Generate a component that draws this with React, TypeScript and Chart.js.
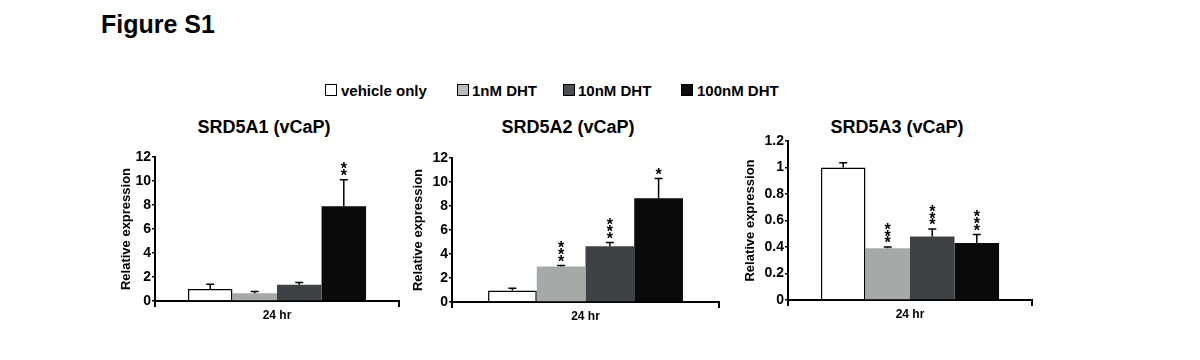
import React, { useEffect, useRef } from 'react';
import { Chart, registerables } from 'chart.js';

Chart.register(...registerables);

const FONT = '"Liberation Sans", Arial, Helvetica, sans-serif';

// ---- data ----
const figureTitle = 'Figure S1';
const seriesNames = ['vehicle only', '1nM DHT', '10nM DHT', '100nM DHT'];
const seriesColors = ['#ffffff', '#a5aaa9', '#3e4244', '#0a0a0a'];
const legendColors = ['#ffffff', '#b7bdbc', '#4a4f51', '#0c0c0c'];
const categories = ['24 hr'];
const yAxisTitle = 'Relative expression';

const panelTitles = ['SRD5A1 (vCaP)', 'SRD5A2 (vCaP)', 'SRD5A3 (vCaP)'];

const srd5a1Values = [1.0, 0.65, 1.35, 7.9];
const srd5a1ErrTop = [1.4, 0.8, 1.55, 10.1];
const srd5a1Stars = [0, 0, 0, 2];

const srd5a2Values = [0.95, 2.95, 4.65, 8.65];
const srd5a2ErrTop = [1.15, 3.05, 4.95, 10.3];
const srd5a2Stars = [0, 3, 3, 1];

const srd5a3Values = [1.0, 0.39, 0.48, 0.43];
const srd5a3ErrTop = [1.035, 0.4, 0.535, 0.495];
const srd5a3Stars = [0, 3, 3, 3];

const yMaxes = [12, 12, 1.2];
const ySteps = [2, 2, 0.2];

const panels = [
  { title: panelTitles[0], values: srd5a1Values, err: srd5a1ErrTop, stars: srd5a1Stars, max: yMaxes[0], step: ySteps[0] },
  { title: panelTitles[1], values: srd5a2Values, err: srd5a2ErrTop, stars: srd5a2Stars, max: yMaxes[1], step: ySteps[1] },
  { title: panelTitles[2], values: srd5a3Values, err: srd5a3ErrTop, stars: srd5a3Stars, max: yMaxes[2], step: ySteps[2] },
];

// ---- layout (positions only) ----
const layouts = [
  { left: 115, top: 147, width: 288, height: 184, yW: 40, titleX: 264 },
  { left: 407, top: 148, width: 316, height: 184, yW: 45, titleX: 568 },
  { left: 739, top: 131, width: 297, height: 199, yW: 49, titleX: 897 },
];
const legendItems = [
  { box: 325, text: 341 },
  { box: 457, text: 472 },
  { box: 563, text: 578 },
  { box: 681, text: 697 },
];

type PanelData = typeof panels[number];
type Layout = typeof layouts[number];

function Panel({ p, L }: { p: PanelData; L: Layout }) {
  const ref = useRef<HTMLCanvasElement | null>(null);
  useEffect(() => {
    if (!ref.current) return;
    const errPlugin = {
      id: 'errbars',
      afterDatasetsDraw(chart: any) {
        const ctx = chart.ctx;
        const ys = chart.scales.y;
        chart.data.datasets.forEach((_ds: any, i: number) => {
          const bar = chart.getDatasetMeta(i).data[0];
          if (!bar) return;
          const x = bar.x;
          const top = ys.getPixelForValue(p.err[i]);
          const by = bar.y;
          ctx.save();
          ctx.strokeStyle = '#000';
          ctx.lineWidth = 1.5;
          ctx.beginPath();
          ctx.moveTo(x, by);
          ctx.lineTo(x, top);
          ctx.moveTo(x - 4, top);
          ctx.lineTo(x + 4, top);
          ctx.stroke();
          ctx.fillStyle = '#000';
          ctx.font = `bold 16px ${FONT}`;
          ctx.textAlign = 'center';
          ctx.textBaseline = 'alphabetic';
          for (let k = 0; k < p.stars[i]; k++) {
            const cy = top - 8 - k * 6.8;
            ctx.fillText('*', x, cy + 9.3);
          }
          ctx.restore();
        });
      },
    };
    const chart = new Chart(ref.current, {
      type: 'bar',
      data: {
        labels: categories,
        datasets: seriesNames.map((n, i) => ({
          label: n,
          data: [p.values[i]],
          backgroundColor: seriesColors[i],
          borderColor: i === 0 ? '#000' : seriesColors[i],
          borderWidth: i === 0 ? 1.5 : 0,
          categoryPercentage: 0.73,
          barPercentage: 1,
        })),
      },
      options: {
        responsive: false,
        animation: false,
        devicePixelRatio: 1,
        layout: { padding: { top: 10, right: 4, left: 0, bottom: 0 } },
        plugins: { legend: { display: false }, tooltip: { enabled: false }, title: { display: false } },
        scales: {
          x: {
            grid: { display: true, drawOnChartArea: false, drawTicks: true, tickLength: 6, color: '#000', lineWidth: 2, offset: true },
            border: { display: true, color: '#000', width: 2 },
            ticks: { color: '#000', font: { family: FONT, size: 12, weight: 'bold' }, padding: 1 },
            afterFit: (s: any) => { s.height = 30; },
          },
          y: {
            min: 0,
            max: p.max,
            ticks: {
              stepSize: p.step,
              color: '#000',
              font: { family: FONT, size: 14, weight: 'bold' },
              padding: 1,
              callback: (v: any) => String(Math.round(Number(v) * 10) / 10),
            },
            grid: { display: true, drawOnChartArea: false, drawTicks: true, tickLength: 3, color: '#000', lineWidth: 1.5 },
            border: { display: true, color: '#000', width: 2 },
            title: { display: true, text: yAxisTitle, color: '#000', font: { family: FONT, size: 13, weight: 'bold' }, padding: { top: 4, bottom: 0 } },
            afterFit: (s: any) => { s.width = L.yW; },
          },
        },
      } as any,
      plugins: [errPlugin],
    });
    return () => chart.destroy();
  }, []);
  return (
    <>
      <div
        style={{
          position: 'absolute', left: L.titleX - 120, width: 240, top: 118, textAlign: 'center',
          fontFamily: FONT, fontWeight: 'bold', fontSize: 18, lineHeight: '18px', color: '#000', whiteSpace: 'nowrap',
        }}
      >
        {p.title}
      </div>
      <canvas
        ref={ref}
        width={L.width}
        height={L.height}
        style={{ position: 'absolute', left: L.left, top: L.top, width: L.width, height: L.height }}
      />
    </>
  );
}

export default function App() {
  return (
    <div style={{ position: 'absolute', left: 0, top: 0, width: 1200, height: 360, background: '#fff', overflow: 'hidden' }}>
      <div
        style={{
          position: 'absolute', left: 101, top: 12, fontFamily: FONT, fontWeight: 'bold', fontSize: 25,
          lineHeight: '25px', color: '#000', whiteSpace: 'nowrap',
        }}
      >
        {figureTitle}
      </div>
      {seriesNames.map((n, i) => (
        <React.Fragment key={n}>
          <div
            style={{
              position: 'absolute', left: legendItems[i].box, top: 84, width: 12, height: 12, boxSizing: 'border-box',
              border: '1.5px solid #000', background: legendColors[i],
            }}
          />
          <div
            style={{
              position: 'absolute', left: legendItems[i].text, top: 82.5, fontFamily: FONT, fontWeight: 'bold',
              fontSize: 15, lineHeight: '15px', color: '#000', whiteSpace: 'nowrap',
            }}
          >
            {n}
          </div>
        </React.Fragment>
      ))}
      {panels.map((p, i) => (
        <Panel key={p.title} p={p} L={layouts[i]} />
      ))}
    </div>
  );
}
